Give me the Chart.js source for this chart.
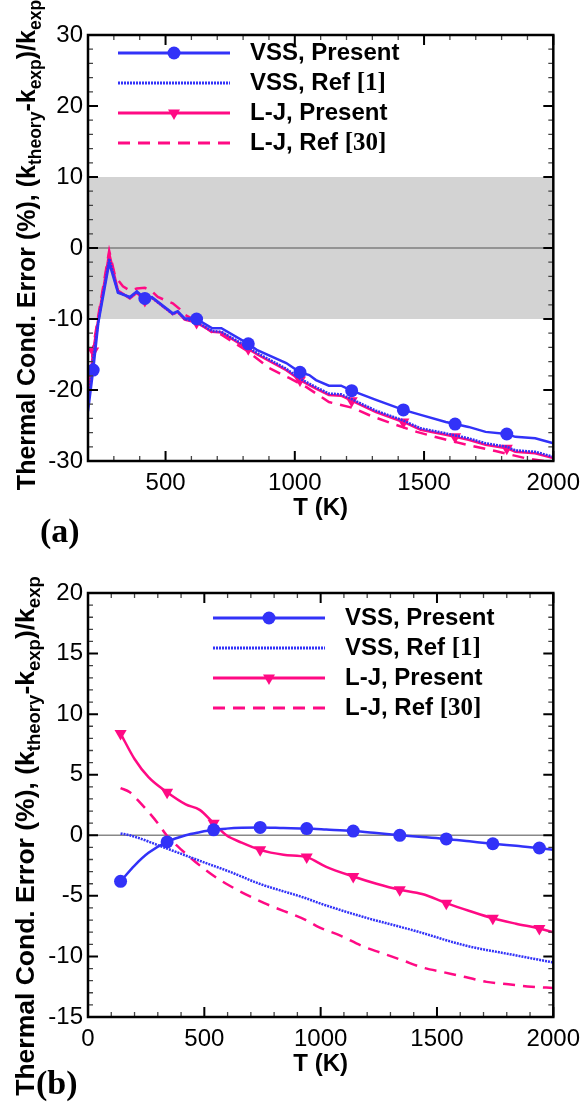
<!DOCTYPE html>
<html>
<head>
<meta charset="utf-8">
<script src="https://cdn.jsdelivr.net/npm/chart.js@4.4.0/dist/chart.umd.min.js"></script>
<style>
  body { margin: 0; background: #fff; }
  #page { position: relative; width: 588px; height: 1104px; overflow: hidden; font-family: "Liberation Sans", Arial, sans-serif; }
  .panel { position: absolute; left: 0; width: 588px; height: 552px; }
  .yt { position: absolute; transform: translate(-50%, -50%) rotate(-90deg); font-weight: bold; font-size: 25px; white-space: nowrap; line-height: 1; color: #000; }
  .yt sub { font-size: 0.7em; vertical-align: -0.35em; line-height: 0; }
  .tag { position: absolute; font-family: "Liberation Serif", "Times New Roman", serif; font-weight: bold; font-size: 34px; line-height: 1; }
</style>
</head>
<body>
<div id="page">
  <div class="panel" style="top:0"><canvas id="chartA"></canvas></div>
  <div class="panel" style="top:552px"><canvas id="chartB"></canvas></div>
  <div class="yt" style="left:26px; top:245px">Thermal Cond. Error (%), (k<sub>theory</sub>-k<sub>exp</sub>)/k<sub>exp</sub></div>
  <div class="yt" style="left:25px; top:836px; font-size:26.5px">Thermal Cond. Error (%), (k<sub>theory</sub>-k<sub>exp</sub>)/k<sub>exp</sub></div>
  <div class="tag" style="left:40px; top:514px">(a)</div>
  <div class="tag" style="left:36px; top:1066px">(b)</div>
</div>
<script>
// ---- panel (a) data ----
var topT = [200, 220, 240, 282, 316, 362, 389, 420, 447, 528, 547, 574, 620, 681, 716, 820, 855, 967, 1020,
            1056, 1082, 1132, 1179, 1220, 1314, 1420, 1487, 1584, 1620, 1672, 1738, 1820, 1853, 1930, 2000];
var topVssPresent = [-23.0, -17.2, -10.5, -2.1, -6.3, -6.9, -6.1, -7.1, -6.9, -9.2, -8.9, -9.9, -10.0, -11.3, -11.3, -13.5, -14.4, -16.2, -17.5,
                     -17.9, -18.6, -19.4, -19.4, -20.1, -21.4, -22.8, -23.5, -24.5, -24.8, -25.2, -25.9, -26.2, -26.6, -26.8, -27.5];
var topVssRef1 = [-22.3, -15.5, -10.3, -1.5, -6.2, -7.0, -6.2, -7.3, -7.0, -9.3, -9.0, -10.0, -10.4, -11.7, -11.8, -14.0, -14.8, -17.0, -18.4,
                  -19.1, -19.6, -20.5, -20.6, -21.3, -22.9, -24.3, -25.4, -26.1, -26.4, -26.8, -27.5, -28.0, -28.5, -28.7, -29.4];
var topLjPresent = [-21.5, -14.5, -10.0, -0.8, -6.0, -7.1, -6.3, -7.4, -7.0, -9.3, -9.0, -10.1, -10.5, -11.8, -11.9, -14.2, -15.0, -17.2, -18.6,
                    -19.3, -19.8, -20.7, -20.8, -21.5, -23.1, -24.5, -25.6, -26.3, -26.6, -27.0, -27.7, -28.2, -28.7, -28.9, -29.6];
var topLjRef30T = [200, 220, 240, 282, 305, 335, 362, 389, 420, 447, 470, 528, 555, 574, 620, 681, 716, 820, 900, 978,
                   1045, 1132, 1222, 1298, 1383, 1472, 1564, 1664, 1776, 1892, 2000];
var topLjRef30 = [-21.0, -14.0, -9.5, -0.4, -4.0, -5.4, -6.0, -5.7, -5.6, -6.1, -6.9, -7.8, -8.6, -9.4, -10.3, -11.9, -12.2, -14.6, -16.9, -18.3,
                  -19.6, -21.7, -22.5, -23.7, -24.8, -25.9, -26.8, -27.7, -28.6, -29.6, -30.2];
var topMarkT = [220, 420, 620, 820, 1020, 1220, 1420, 1620, 1820];

// ---- panel (b) data ----
var botT = [140, 200, 260, 340, 420, 480, 540, 595, 660, 740, 840, 940, 1024, 1140, 1240, 1340, 1436, 1540, 1640, 1740, 1840, 1940, 2000];
var botVssPresent = [-3.8, -2.5, -1.45, -0.55, 0.0, 0.25, 0.45, 0.55, 0.62, 0.65, 0.6, 0.55, 0.47, 0.35, 0.18, 0.0, -0.15, -0.3, -0.5, -0.7, -0.87, -1.05, -1.2];
var botLjPresent = [8.4, 6.3, 4.8, 3.55, 2.55, 2.1, 1.0, 0.0, -0.6, -1.2, -1.6, -1.8, -2.6, -3.4, -4.0, -4.5, -4.85, -5.6, -6.25, -6.85, -7.3, -7.7, -8.0];
var botVssRef1T = [140, 180, 340, 508, 608, 737, 937, 994, 1194, 1408, 1622, 1836, 2000];
var botVssRef1 = [0.15, 0.0, -1.1, -2.3, -3.0, -4.0, -5.2, -5.6, -6.8, -7.9, -9.1, -9.9, -10.5];
var botLjRef30T = [140, 180, 214, 300, 338, 402, 508, 594, 758, 937, 994, 1087, 1173, 1259, 1349, 1435, 1528, 1622, 1713, 1807, 1906, 2000];
var botLjRef30 = [3.9, 3.55, 2.9, 1.0, 0.0, -1.2, -2.9, -4.0, -5.6, -7.0, -7.6, -8.3, -9.1, -9.7, -10.3, -10.9, -11.3, -11.7, -12.1, -12.3, -12.5, -12.6];
var botMarkT = [140, 340, 540, 740, 940, 1140, 1340, 1540, 1740, 1940];

var BLUE = '#3232f8';
var PINK = '#ff0a84';
var SANS = '"Liberation Sans", Arial, sans-serif';
var SERIF = '"Liberation Serif", "Times New Roman", serif';

function pts(xs, ys) {
  return xs.map(function(x, i){ return {x: x, y: ys[i]}; });
}

function markerRadius(marks, r) {
  return function(ctx){
    return ctx.raw && marks.indexOf(ctx.raw.x) >= 0 ? r : 0;
  };
}

// grey band, zero line, frame and inward ticks
var framePlugin = {
  id: 'frame',
  beforeDatasetsDraw: function(chart, args, o){
    var ctx = chart.ctx, a = chart.chartArea, y = chart.scales.y;
    ctx.save();
    if (o.band) {
      var y1 = y.getPixelForValue(o.band[1]), y0 = y.getPixelForValue(o.band[0]);
      ctx.fillStyle = '#d3d3d3';
      ctx.fillRect(a.left, y1, a.right - a.left, y0 - y1);
    }
    var z = y.getPixelForValue(0);
    ctx.strokeStyle = o.zeroColor;
    ctx.lineWidth = o.zeroWidth;
    ctx.beginPath(); ctx.moveTo(a.left, z); ctx.lineTo(a.right, z); ctx.stroke();
    ctx.restore();
  },
  afterDatasetsDraw: function(chart, args, o){
    var ctx = chart.ctx, a = chart.chartArea, x = chart.scales.x, y = chart.scales.y;
    ctx.save();
    x.ticks.forEach(function(t){
      var px = x.getPixelForValue(t.value);
      var major = Math.round(t.value) % o.xMajor === 0;
      var len = major ? 10 : 5;
      ctx.lineWidth = major ? 2 : 1.3;
      ctx.strokeStyle = major ? '#000' : '#444';
      ctx.beginPath();
      ctx.moveTo(px, a.bottom); ctx.lineTo(px, a.bottom - len);
      ctx.moveTo(px, a.top); ctx.lineTo(px, a.top + len);
      ctx.stroke();
    });
    y.ticks.forEach(function(t){
      var py = y.getPixelForValue(t.value);
      var major = Math.round(t.value) % o.yMajor === 0;
      var len = major ? 10 : 5;
      ctx.lineWidth = major ? 2 : 1.3;
      ctx.strokeStyle = major ? '#000' : '#444';
      ctx.beginPath();
      ctx.moveTo(a.left, py); ctx.lineTo(a.left + len, py);
      ctx.moveTo(a.right, py); ctx.lineTo(a.right - len, py);
      ctx.stroke();
    });
    ctx.lineWidth = 2.5;
    ctx.strokeStyle = '#000';
    ctx.strokeRect(a.left, a.top, a.right - a.left, a.bottom - a.top);
    ctx.restore();
  }
};

// legend inside the plot: line sample + marker + label (brackets in serif)
var legendPlugin = {
  id: 'sampleLegend',
  afterDraw: function(chart, args, o){
    var ctx = chart.ctx;
    chart.data.datasets.forEach(function(ds, i){
      var y = o.y0 + i * o.dy;
      ctx.save();
      ctx.strokeStyle = ds.borderColor;
      ctx.lineWidth = ds.borderWidth + 0.5;
      ctx.setLineDash(ds.borderDash || []);
      ctx.beginPath(); ctx.moveTo(o.x0, y); ctx.lineTo(o.x1, y); ctx.stroke();
      ctx.setLineDash([]);
      ctx.fillStyle = ds.borderColor;
      var mx = (o.x0 + o.x1) / 2;
      if (ds.pointStyle === 'circle') {
        ctx.beginPath(); ctx.arc(mx, y, 6.5, 0, Math.PI * 2); ctx.fill();
      } else if (ds.pointStyle === 'triangle') {
        ctx.beginPath();
        ctx.moveTo(mx, y + 7); ctx.lineTo(mx - 6, y - 3.5); ctx.lineTo(mx + 6, y - 3.5);
        ctx.closePath(); ctx.fill();
      }
      var m = ds.label.match(/^(.*?)(\[\d+\])?$/);
      ctx.fillStyle = '#000';
      ctx.textBaseline = 'middle';
      ctx.font = 'bold 24px ' + SANS;
      ctx.fillText(m[1], o.tx, y);
      if (m[2]) {
        var w = ctx.measureText(m[1]).width;
        ctx.font = 'bold 25px ' + SERIF;
        ctx.fillText(m[2], o.tx + w, y + 1);
      }
      ctx.restore();
    });
  }
};

function lineSet(label, data, color, opts) {
  var d = {
    label: label, data: data, borderColor: color, backgroundColor: color,
    borderWidth: 2.5, pointRadius: 0, pointHoverRadius: 0, fill: false,
    tension: opts.tension || 0, cubicInterpolationMode: opts.mono ? 'monotone' : 'default',
    pointStyle: opts.pointStyle || false, pointRotation: opts.rotation || 0,
    pointBorderWidth: 0
  };
  if (opts.dash) d.borderDash = opts.dash;
  if (opts.width) d.borderWidth = opts.width;
  if (opts.marks) d.pointRadius = markerRadius(opts.marks, opts.r);
  return d;
}

function makeChart(id, cfg) {
  return new Chart(document.getElementById(id), {
    type: 'line',
    data: { datasets: cfg.datasets },
    plugins: [framePlugin, legendPlugin],
    options: {
      responsive: true,
      maintainAspectRatio: false,
      animation: false,
      events: [],
      layout: { padding: { top: cfg.padTop, right: 33, bottom: cfg.padBottom, left: 0 } },
      plugins: {
        legend: { display: false },
        tooltip: { enabled: false },
        frame: cfg.frame,
        sampleLegend: cfg.legend
      },
      scales: {
        x: {
          type: 'linear', min: cfg.xMin, max: 2000,
          border: { display: false },
          grid: { display: false, drawTicks: false },
          ticks: {
            stepSize: 100, autoSkip: false, maxRotation: 0, padding: 8, color: '#000',
            font: { family: SANS, size: 24 },
            callback: function(v){ return v % 500 === 0 ? String(v) : ''; }
          },
          title: { display: true, text: 'T (K)', color: '#000', padding: 0, font: { family: SANS, size: 24, weight: 'bold' } },
          afterFit: function(s){ s.height = 62; }
        },
        y: {
          min: cfg.yMin, max: cfg.yMax,
          border: { display: false },
          grid: { display: false, drawTicks: false },
          ticks: {
            stepSize: cfg.yStep, autoSkip: false, padding: 5, color: '#000',
            font: { family: SANS, size: 24 },
            callback: function(v){ return Math.round(v) % cfg.yMajor === 0 ? String(v) : ''; }
          },
          afterFit: function(s){ s.width = 88; }
        }
      }
    }
  });
}

makeChart('chartA', {
  xMin: 200, yMin: -30, yMax: 30, yStep: 2, yMajor: 10, padTop: 35, padBottom: 29,
  frame: { band: [-10, 10], zeroColor: '#555', zeroWidth: 1.2, xMajor: 500, yMajor: 10 },
  legend: { x0: 118, x1: 230, tx: 250, y0: 53, dy: 30 },
  datasets: [
    lineSet('VSS, Present', pts(topT, topVssPresent), BLUE, { pointStyle: 'circle', marks: topMarkT, r: 6.5 }),
    lineSet('VSS, Ref [1]', pts(topT, topVssRef1), BLUE, { dash: [2, 1], width: 2.5 }),
    lineSet('L-J, Present', pts(topT, topLjPresent), PINK, { pointStyle: 'triangle', rotation: 180, marks: topMarkT, r: 7 }),
    lineSet('L-J, Ref [30]', pts(topLjRef30T, topLjRef30), PINK, { dash: [12, 8] })
  ]
});

makeChart('chartB', {
  xMin: 0, yMin: -15, yMax: 20, yStep: 1, yMajor: 5, padTop: 41, padBottom: 25,
  frame: { band: null, zeroColor: '#888', zeroWidth: 1.5, xMajor: 500, yMajor: 5 },
  legend: { x0: 213, x1: 325, tx: 345, y0: 66, dy: 30 },
  datasets: [
    lineSet('VSS, Present', pts(botT, botVssPresent), BLUE, { pointStyle: 'circle', marks: botMarkT, r: 6.5, tension: 0.4, mono: true }),
    lineSet('VSS, Ref [1]', pts(botVssRef1T, botVssRef1), BLUE, { dash: [2, 1], width: 2.5, tension: 0.4, mono: true }),
    lineSet('L-J, Present', pts(botT, botLjPresent), PINK, { pointStyle: 'triangle', rotation: 180, marks: botMarkT, r: 7, tension: 0.4, mono: true }),
    lineSet('L-J, Ref [30]', pts(botLjRef30T, botLjRef30), PINK, { dash: [12, 8], tension: 0.4, mono: true })
  ]
});
</script>
</body>
</html>
